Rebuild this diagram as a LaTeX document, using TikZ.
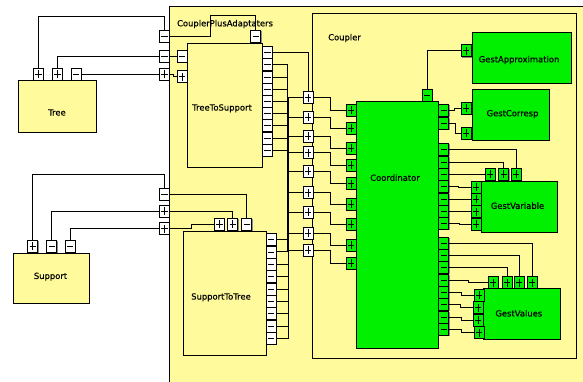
\documentclass[tikz,border=0pt]{standalone}
\usepackage{fontspec}
\usetikzlibrary{shadows}
\newfontfamily\lblf[FakeBold=0.5]{DejaVu Sans}
\definecolor{ylw}{RGB}{255,250,155}
\definecolor{grn}{RGB}{0,240,0}
\tikzset{
 shd/.style={drop shadow={shadow xshift=0.9pt, shadow yshift=-0.9pt, fill=black!45, opacity=1}},
 ybox/.style={draw=black, line width=0.8pt, fill=ylw, inner sep=0pt, shd},
 gbox/.style={draw=black, line width=0.8pt, fill=grn, inner sep=0pt, shd},
 port/.style={draw=black, line width=0.7pt, minimum width=10pt, minimum height=12pt, inner sep=0pt, outer sep=0pt, shd},
 wport/.style={port, fill=white},
 gport/.style={port, fill=grn},
 psym/.style={path picture={\draw[line width=0.7pt] ([xshift=-3.2pt]path picture bounding box.center) -- ([xshift=3.2pt]path picture bounding box.center) ([yshift=-4pt]path picture bounding box.center) -- ([yshift=4pt]path picture bounding box.center);}},
 msym/.style={path picture={\draw[line width=0.7pt] ([xshift=-3.2pt]path picture bounding box.center) -- ([xshift=3.2pt]path picture bounding box.center);}},
 wire/.style={draw=black, line width=0.75pt},
 lbl/.style={font=\lblf\fontsize{8.4}{10}\selectfont, inner sep=0pt}
}
\begin{document}
\begin{tikzpicture}[x=1pt,y=-1pt]
\useasboundingbox (0,0) rectangle (583,381);
\fill[white] (0,0) rectangle (583,381);
\clip (0,0) rectangle (583,381);
% boxes
\node[ybox, anchor=north west, minimum width=430pt, minimum height=400pt] (cpa) at (169,6) {};
\node[ybox, anchor=north west, minimum width=78pt, minimum height=52pt] (tree) at (18,80) {};
\node[ybox, anchor=north west, minimum width=76pt, minimum height=50pt] (support) at (13,253) {};
\node[ybox, anchor=north west, minimum width=75pt, minimum height=124pt] (ts) at (187,43) {};
\node[ybox, anchor=north west, minimum width=83pt, minimum height=124pt] (stt) at (183,231) {};
\node[ybox, anchor=north west, minimum width=264pt, minimum height=345pt] (coupler) at (312,13) {};
\node[gbox, anchor=north west, minimum width=82pt, minimum height=247pt] (coord) at (356,101) {};
\node[gbox, anchor=north west, minimum width=99pt, minimum height=51pt] (gapx) at (472,32) {};
\node[gbox, anchor=north west, minimum width=77pt, minimum height=51pt] (gcor) at (472,89) {};
\node[gbox, anchor=north west, minimum width=76pt, minimum height=51pt] (gvar) at (481,181) {};
\node[gbox, anchor=north west, minimum width=77pt, minimum height=51pt] (gval) at (483,288) {};
% labels
\node[lbl] (l-cpa) at (225,24) {CouplerPlusAdaptaters};
\node[lbl, anchor=west] (l-coupler) at (328,38) {Coupler};
\node[lbl] (l-tree) at (57,112.5) {Tree};
\node[lbl] (l-ts) at (222,108.3) {TreeToSupport};
\node[lbl] (l-support) at (50.5,276.7) {Support};
\node[lbl] (l-stt) at (221,297.3) {SupportToTree};
\node[lbl] (l-coord) at (395,177.7) {Coordinator};
\node[lbl] (l-gapx) at (519,60) {GestApproximation};
\node[lbl] (l-gcor) at (512.5,114) {GestCorresp};
\node[lbl] (l-gvar) at (517.5,205.7) {GestVariable};
\node[lbl] (l-gval) at (518.8,313.3) {GestValues};
% ports
\node[wport,psym] (tp1) at (38.5,74.3) {};
\node[wport,psym] (tp2) at (57.5,74.3) {};
\node[wport,msym] (tp3) at (76,74.3) {};
\node[wport,msym] (op1) at (164.3,36.5) {};
\node[wport,msym] (op2) at (164.3,56) {};
\node[wport,psym] (op3) at (164.3,74.3) {};
\node[wport,msym] (op4) at (164.3,194.5) {};
\node[wport,psym] (op5) at (164.3,211) {};
\node[wport,psym] (op6) at (164.3,228.5) {};
\node[wport,msym] (tl1) at (182,56) {};
\node[wport,psym] (tl2) at (182,76.5) {};
\node[wport,msym] (tt) at (255.7,36) {};
\foreach \i in {1,...,9} {\node[wport,msym] (tr\i) at (267.3,{52.5+12.2*(\i-1)}) {};}
\node[wport,psym] (sp1) at (32.7,246) {};
\node[wport,msym] (sp2) at (51.7,246) {};
\node[wport,msym] (sp3) at (70,246) {};
\node[wport,psym] (st1) at (219.3,224) {};
\node[wport,psym] (st2) at (232.7,224) {};
\node[wport,msym] (st3) at (246.7,224) {};
\foreach \i in {1,...,9} {\node[wport,msym] (sr\i) at (271,{239.5+12.35*(\i-1)}) {};}
\foreach \y [count=\i] in {97.5,117,136,152.5,171,192.5,212,233,250} {\node[wport,psym] (cl\i) at (308,\y) {};}
\foreach \y [count=\i] in {110,128.3,148,165,183.5,204,224,245,263} {\node[gport,psym] (kl\i) at (351,\y) {};}
\node[gport,msym] (kt) at (427,95) {};
\foreach \y [count=\i] in {110,123.3,149,162,174,186,199,211.5,223,243,255,267.5,280,292.5,304.5,317,329} {\node[gport,msym] (kr\i) at (443.7,\y) {};}
\node[gport,psym] (ga) at (466,50.8) {};
\node[gport,psym] (gc1) at (466,108.3) {};
\node[gport,psym] (gc2) at (466,133) {};
\node[gport,psym] (gvt1) at (490,174) {};
\node[gport,psym] (gvt2) at (503.7,174) {};
\node[gport,psym] (gvt3) at (516,174) {};
\node[gport,psym] (gvl1) at (476,187) {};
\node[gport,psym] (gvl2) at (476,199) {};
\node[gport,psym] (gvl3) at (476,211.7) {};
\node[gport,psym] (gvl4) at (476,224) {};
\node[gport,psym] (gut1) at (493,282.5) {};
\node[gport,psym] (gut2) at (507,282.5) {};
\node[gport,psym] (gut3) at (519,282.5) {};
\node[gport,psym] (gut4) at (532,282.5) {};
\node[gport,psym] (gul1) at (479,295) {};
\node[gport,psym] (gul2) at (478,307.5) {};
\node[gport,psym] (gul3) at (478,320) {};
\node[gport,psym] (gul4) at (479,332.5) {};
% wires: Tree side
\draw[wire] (tp1.north) -- (tp1.north |- 0,16) -| (op1.north);
\draw[wire] (tp2.north) |- (op2.west);
\draw[wire] (tp3.east) -- (op3.west);
\draw[wire] (op1.east) -| (210,15) -| (tt.north);
\draw[wire] (op2.east) -- (tl1.west);
\draw[wire] (op3.east) -- ++(4,0) |- (tl2.west);
% wires: Support side
\draw[wire] (sp1.north) -- (sp1.north |- 0,174.3) -| (op4.north);
\draw[wire] (sp2.north) |- (op5.west);
\draw[wire] (sp3.north) |- (op6.west);
\draw[wire] (op4.east) -| (st3.north);
\draw[wire] (op5.east) -| (st2.north);
\draw[wire] (op6.east) -- (op6.east -| 191.7,0) |- (st1.west);
% bus
\draw[wire] (tr1.east) -| (cl1.north);
\foreach \i in {2,...,9} {\draw[wire] (tr\i.east) -- (tr\i.east -| 287.3,0) |- (cl\i.west);}
\foreach \i in {1,...,9} {\draw[wire] (sr\i.east) -- (sr\i.east -| 288.8,0) |- (cl\i.west);}
% coupler to coordinator
\foreach \i in {1,...,9} {\draw[wire] (cl\i.east) -- (cl\i.east -| 330,0) |- (kl\i.west);}
% coordinator to gest
\draw[wire] (kt.north) |- (ga.west);
\draw[wire] (kr1.east) -- (kr1.east -| 454.3,0) |- (gc1.west);
\draw[wire] (kr2.east) -- (kr2.east -| 455.7,0) |- (gc2.west);
\draw[wire] (kr3.east) -| (gvt3.north);
\draw[wire] (kr4.east) -| (gvt2.north);
\draw[wire] (kr5.east) -- (gvt1.west);
\draw[wire] (kr6.east) -- (kr6.east -| 458,0) |- (gvl1.west);
\draw[wire] (kr7.east) -- (gvl2.west);
\draw[wire] (kr8.east) -- (kr8.east -| 459,0) |- (gvl3.west);
\draw[wire] (kr9.east) -- (kr9.east -| 459.3,0) |- (gvl4.west);
\draw[wire] (kr10.east) -| (gut4.north);
\draw[wire] (kr11.east) -| (gut3.north);
\draw[wire] (kr12.east) -| (gut2.north);
\draw[wire] (kr13.east) -- (kr13.east -| 468.3,0) |- (gut1.west);
\draw[wire] (kr14.east) -- (kr14.east -| 461.7,0) |- (gul1.west);
\draw[wire] (kr15.east) -- (kr15.east -| 460.7,0) |- (gul2.west);
\draw[wire] (kr16.east) -- (kr16.east -| 461,0) |- (gul3.west);
\draw[wire] (kr17.east) -- (kr17.east -| 461,0) |- (gul4.west);
\end{tikzpicture}
\end{document}
